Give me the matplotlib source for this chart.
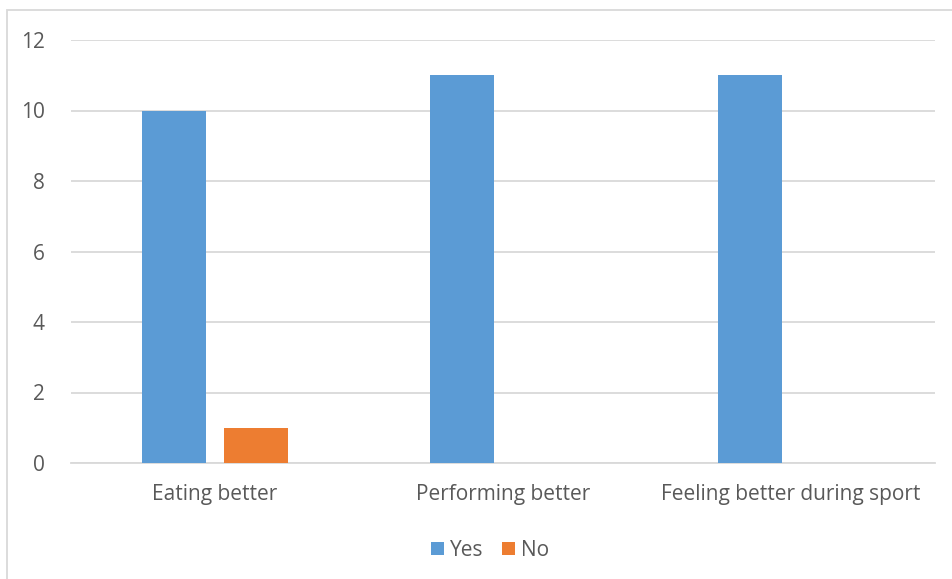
import numpy as np
import matplotlib.pyplot as plt
from matplotlib.patches import Rectangle

categories = ["Eating better", "Performing better", "Feeling better during sport"]
yes_values = [10, 11, 11]
no_values = [1, 0, 0]

plt.rcParams['font.family'] = ['Open Sans', 'DejaVu Sans']
text_color = "#595959"
grid_color = "#d9d9d9"

fig = plt.figure(figsize=(9.52, 5.79), dpi=100)
ax = fig.add_axes([71 / 952, 116 / 579, 864 / 952, 423 / 579])

x = np.arange(len(categories))
width = 0.222
offset = 0.1424
ax.bar(x - offset, yes_values, width, color="#5b9bd5", label="Yes", zorder=3)
ax.bar(x + offset, no_values, width, color="#ed7d31", label="No", zorder=3)

ax.set_xlim(-0.5, 2.5)
ax.set_ylim(0, 12)
ax.set_yticks(range(0, 13, 2))
ax.set_xticks(x)
ax.set_xticklabels(categories)
ax.yaxis.grid(True, color=grid_color, linewidth=1.3)
ax.set_axisbelow(True)
for side in ["top", "right", "left"]:
    ax.spines[side].set_visible(False)
ax.spines["bottom"].set_color(grid_color)
ax.spines["bottom"].set_linewidth(1.3)
ax.tick_params(axis="both", length=0, labelsize=15, labelcolor=text_color)
ax.tick_params(axis="x", pad=15)
ax.tick_params(axis="y", pad=19)

fig.legend(loc="center", bbox_to_anchor=(490 / 952, 1 - 550 / 579), ncol=2, frameon=False,
           fontsize=15, labelcolor=text_color, handlelength=0.6, handleheight=0.6,
           handletextpad=0.3, columnspacing=0.9)

fig.patches.append(Rectangle((7 / 952, -0.05), 1.2, 1.05 - 10 / 579, transform=fig.transFigure,
                             fill=False, edgecolor=grid_color, linewidth=1.3))

fig.savefig("out.png", dpi=100)
